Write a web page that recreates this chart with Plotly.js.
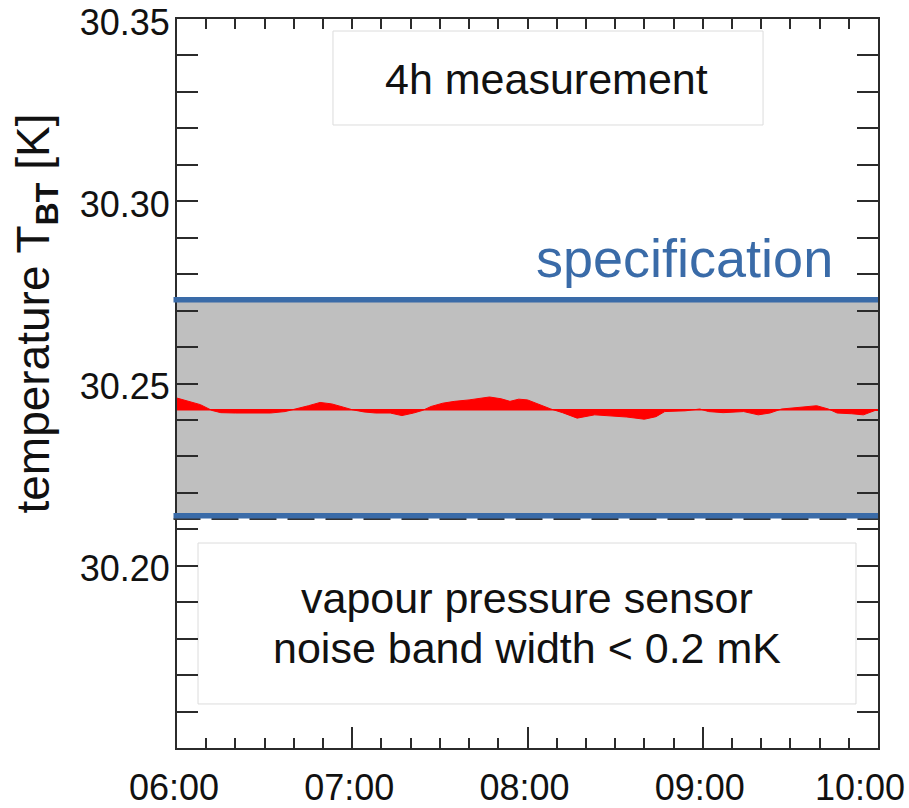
<!DOCTYPE html>
<html>
<head>
<meta charset="utf-8">
<script src="https://cdn.plot.ly/plotly-3.0.1.min.js"></script>
<style>
  html, body { margin: 0; padding: 0; background: #ffffff; }
  #chart { width: 909px; height: 808px; }
</style>
</head>
<body>
<div id="chart"></div>
<script>
// ---- data ----
const day = '2024-01-01 ';
const times = ['06:00','06:04','06:08','06:12','06:15','06:20','06:26','06:32','06:37','06:41',
               '06:45','06:49','06:53','06:57','07:00','07:04','07:08','07:13','07:17','07:21',
               '07:24','07:27','07:31','07:35','07:40','07:47','07:51','07:54','07:57','08:00',
               '08:04','08:08','08:12','08:17','08:23','08:29','08:34','08:40','08:44','08:47',
               '08:54','08:59','09:02','09:07','09:14','09:19','09:23','09:27','09:32','09:39',
               '09:43','09:46','09:51','09:55','09:59','10:00'];
const temperature = [30.2460,30.2451,30.2442,30.2426,30.2420,30.2419,30.2420,30.2419,30.2423,30.2430,
                     30.2439,30.2448,30.2444,30.2435,30.2428,30.2422,30.2419,30.2419,30.2412,30.2419,
                     30.2426,30.2437,30.2446,30.2451,30.2455,30.2463,30.2458,30.2451,30.2457,30.2455,
                     30.2442,30.2430,30.2420,30.2405,30.2414,30.2411,30.2408,30.2402,30.2409,30.2423,
                     30.2425,30.2430,30.2423,30.2420,30.2423,30.2414,30.2419,30.2430,30.2433,30.2439,
                     30.2430,30.2419,30.2417,30.2414,30.2426,30.2426];
const meanLevel = 30.2428;
const specLimits = [30.2137, 30.2730];   // lower, upper
const dashedLevel = 30.2128;
const yTickVals = [30.20, 30.25, 30.30, 30.35];
const yTickText = ['30.20', '30.25', '30.30', '30.35'];
const xTickVals = ['06:00', '07:00', '08:00', '09:00', '10:00'];
const xTickText = ['06:00', '07:00', '08:00', '09:00', '10:00\u00a0\u00a0\u00a0'];
const xRange = ['06:00', '10:00'];
const yRange = [30.15, 30.35];

// ---- styling ----
const FONT = 'Liberation Sans, Arial, Helvetica, sans-serif';
const AX = '#2b2b2b';
const BLUE = '#3a6ba8';

const xs = times.map(t => day + t);
const xr = xRange.map(t => day + t);

const traces = [
  { x: xr, y: [meanLevel, meanLevel], type: 'scatter', mode: 'lines',
    line: { color: '#ff0000', width: 1.5 }, hoverinfo: 'skip', showlegend: false },
  { x: xs, y: temperature, type: 'scatter', mode: 'lines', fill: 'tonexty', fillcolor: '#ff0000',
    line: { color: '#ff0000', width: 1 }, showlegend: false },
  { x: [], y: [], type: 'scatter', mode: 'lines', xaxis: 'x2', yaxis: 'y', showlegend: false, hoverinfo: 'skip' }
];

const layout = {
  width: 909, height: 808,
  margin: { l: 177, r: 31, t: 19, b: 60 },
  paper_bgcolor: '#ffffff', plot_bgcolor: '#ffffff',
  showlegend: false,
  font: { family: FONT, color: '#111' },
  xaxis: {
    type: 'date', range: xr,
    tickmode: 'array', tickvals: xTickVals.map(t => day + t), ticktext: xTickText,
    ticks: 'inside', ticklen: 21, tickwidth: 2, tickcolor: AX,
    showline: true, linecolor: AX, linewidth: 2, mirror: true,
    showgrid: false, zeroline: false,
    tickfont: { family: FONT, size: 36, color: '#111' },
    ticklabelstandoff: 7, ticklabelshift: -3, ticklabeloverflow: 'allow',
    minor: { tickmode: 'linear', tick0: day + '06:00', dtick: 600000, ticks: 'inside', ticklen: 10, tickwidth: 2, tickcolor: AX, showgrid: false }
  },
  xaxis2: {
    type: 'date', range: xr, overlaying: 'x', side: 'top', anchor: 'y',
    tick0: day + '06:00', dtick: 600000,
    ticks: 'inside', ticklen: 10, tickwidth: 2, tickcolor: AX,
    showticklabels: false, showline: false, showgrid: false, zeroline: false
  },
  yaxis: {
    range: yRange, tickmode: 'array', tickvals: yTickVals, ticktext: yTickText,
    ticks: 'inside', ticklen: 21, tickwidth: 2, tickcolor: AX,
    showline: true, linecolor: AX, linewidth: 2, mirror: 'allticks',
    showgrid: false, zeroline: false,
    tickfont: { family: FONT, size: 36, color: '#111' },
    ticklabelstandoff: -2, ticklabelshift: 3, ticklabeloverflow: 'allow',
    minor: { tickmode: 'linear', tick0: 30.15, dtick: 0.01, ticks: 'inside', ticklen: 10, tickwidth: 2, tickcolor: AX, showgrid: false }
  },
  shapes: [
    { type: 'rect', xref: 'paper', yref: 'y', x0: 0, x1: 1, y0: specLimits[0], y1: specLimits[1],
      fillcolor: '#bfbfbf', line: { width: 0 }, layer: 'below' },
    { type: 'line', xref: 'paper', yref: 'y', x0: -0.005, x1: 1, y0: dashedLevel, y1: dashedLevel,
      line: { color: '#333333', width: 2, dash: '27px,11px' }, layer: 'above' },
    { type: 'line', xref: 'paper', yref: 'y', x0: -0.005, x1: 1, y0: specLimits[0], y1: specLimits[0],
      line: { color: BLUE, width: 5.5 }, layer: 'above' },
    { type: 'line', xref: 'paper', yref: 'y', x0: -0.005, x1: 1, y0: specLimits[1], y1: specLimits[1],
      line: { color: BLUE, width: 5.5 }, layer: 'above' },
    { type: 'rect', xref: 'paper', yref: 'paper', x0: 0.2225, x1: 0.836, y0: 0.8546, y1: 0.9835,
      fillcolor: '#ffffff', line: { color: '#dcdcdc', width: 1 }, layer: 'below' },
    { type: 'rect', xref: 'paper', yref: 'paper', x0: 0.030, x1: 0.9686, y0: 0.0604, y1: 0.2812,
      fillcolor: '#ffffff', line: { color: '#dcdcdc', width: 1 }, layer: 'below' }
  ],
  annotations: [
    { text: '4h measurement', xref: 'paper', yref: 'paper', x: 0.5278, y: 0.9177,
      xanchor: 'center', yanchor: 'middle',
      showarrow: false, font: { family: FONT, size: 43, color: '#111' } },
    { text: 'vapour pressure sensor', xref: 'paper', yref: 'paper', x: 0.4993, y: 0.2058,
      xanchor: 'center', yanchor: 'middle',
      showarrow: false, font: { family: FONT, size: 43, color: '#111' } },
    { text: 'noise band width &lt; 0.2 mK', xref: 'paper', yref: 'paper', x: 0.4993, y: 0.1372,
      xanchor: 'center', yanchor: 'middle',
      showarrow: false, font: { family: FONT, size: 43, color: '#111' } },
    { text: 'specification', xref: 'paper', yref: 'paper', x: 0.7233, y: 0.6722,
      xanchor: 'center', yanchor: 'middle',
      showarrow: false, font: { family: FONT, size: 54, color: BLUE } },
    { text: 'temperature T<sub><b>BT</b></sub> [K]', xref: 'paper', yref: 'paper', x: -0.2011, y: 0.596,
      xanchor: 'center', yanchor: 'middle',
      textangle: -90, showarrow: false, font: { family: FONT, size: 46, color: '#111' } }
  ]
};

Plotly.newPlot('chart', traces, layout, { displayModeBar: false, staticPlot: true });
</script>
</body>
</html>
